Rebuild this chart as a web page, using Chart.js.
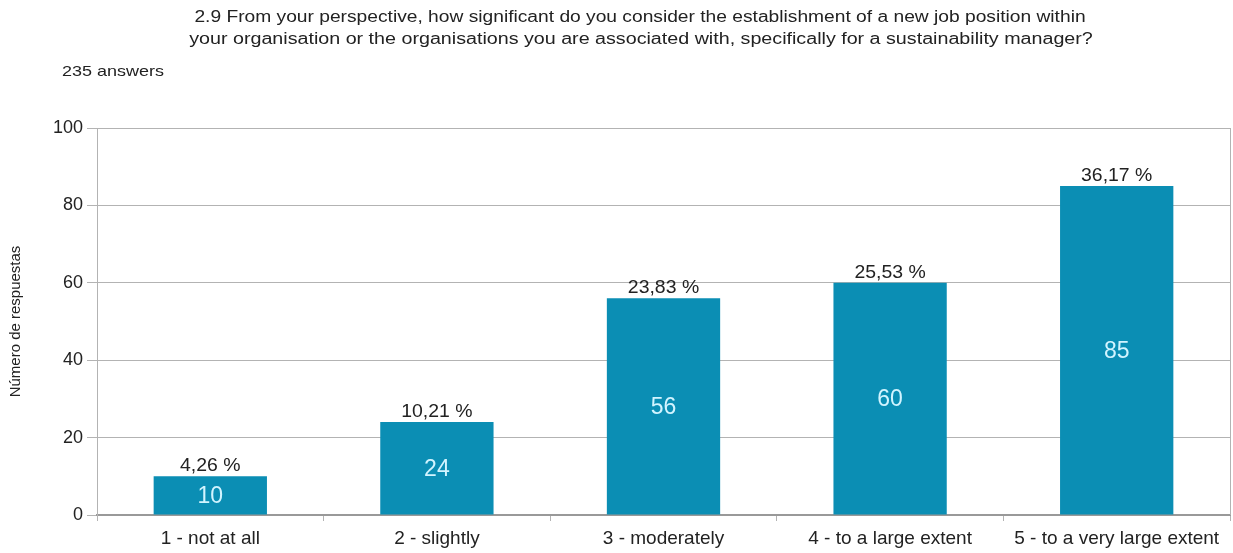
<!DOCTYPE html>
<html>
<head>
<meta charset="utf-8">
<script src="https://cdn.jsdelivr.net/npm/chart.js@4/dist/chart.umd.min.js"></script>
<style>
  html, body { margin: 0; padding: 0; background: #ffffff; }
  #wrap { width: 1233px; height: 553px; position: relative; }
</style>
</head>
<body>
<div id="wrap"><canvas id="chart" width="1233" height="553"></canvas></div>
<script>
// Survey question 2.9 – responses per answer option
const categories = [
  '1 - not at all',
  '2 - slightly',
  '3 - moderately',
  '4 - to a large extent',
  '5 - to a very large extent'
];
const counts = [10, 24, 56, 60, 85];
const percentLabels = ['4,26 %', '10,21 %', '23,83 %', '25,53 %', '36,17 %'];
const yTicks = [0, 20, 40, 60, 80, 100];

const titleLines = [
  '2.9 From your perspective, how significant do you consider the establishment of a new job position within',
  'your organisation or the organisations you are associated with, specifically for a sustainability manager?'
];
const answersNote = '235 answers';
const yAxisTitle = 'Número de respuestas';

const FONT = "'Liberation Sans', Arial, sans-serif";
const BAR_COLOR = '#0b8eb4';
const TEXT_COLOR = '#222222';

// draws text widened horizontally by factor sx, anchored at (x, y)
function wideText(ctx, text, x, y, sx) {
  ctx.save();
  ctx.translate(x, y);
  ctx.scale(sx, 1);
  ctx.fillText(text, 0, 0);
  ctx.restore();
}

// Title, answer count, frame edge and per-bar labels
const annotations = {
  id: 'annotations',
  afterDatasetsDraw(chart) {
    const { ctx, chartArea } = chart;
    ctx.save();
    ctx.fillStyle = TEXT_COLOR;
    ctx.textBaseline = 'middle';
    ctx.textAlign = 'center';
    ctx.font = '16px ' + FONT;
    wideText(ctx, titleLines[0], 640, 18, 1.2);
    wideText(ctx, titleLines[1], 641, 40, 1.23);
    ctx.textAlign = 'left';
    ctx.font = '15px ' + FONT;
    wideText(ctx, answersNote, 62, 72, 1.2);

    // right frame edge
    ctx.strokeStyle = '#b3b3b3';
    ctx.lineWidth = 1;
    ctx.beginPath();
    ctx.moveTo(Math.round(chartArea.right) + 0.5, chartArea.top);
    ctx.lineTo(Math.round(chartArea.right) + 0.5, chartArea.bottom);
    ctx.stroke();

    const meta = chart.getDatasetMeta(0);
    meta.data.forEach((bar, i) => {
      const top = bar.y;
      const bottom = bar.base;
      ctx.textAlign = 'center';
      ctx.fillStyle = TEXT_COLOR;
      ctx.font = '18px ' + FONT;
      wideText(ctx, percentLabels[i], bar.x, top - 10, 1.08);
      ctx.fillStyle = '#d2f4ff';
      ctx.font = '23px ' + FONT;
      ctx.fillText(String(counts[i]), bar.x, (top + bottom) / 2 + 1);
    });
    ctx.restore();
  }
};

new Chart(document.getElementById('chart'), {
  type: 'bar',
  data: {
    labels: categories,
    datasets: [{
      data: counts,
      backgroundColor: BAR_COLOR,
      borderWidth: 0,
      barPercentage: 0.5,
      categoryPercentage: 1.0
    }]
  },
  options: {
    responsive: false,
    animation: false,
    events: [],
    layout: { padding: { top: 128, right: 3, left: 0, bottom: 0 } },
    plugins: {
      legend: { display: false },
      tooltip: { enabled: false },
      title: { display: false }
    },
    scales: {
      x: {
        grid: {
          offset: true,
          drawOnChartArea: false,
          drawTicks: true,
          tickLength: 6,
          tickColor: '#b3b3b3'
        },
        border: { display: true, color: '#999999', width: 2 },
        ticks: {
          color: TEXT_COLOR,
          font: { family: FONT, size: 19 },
          padding: 6,
          maxRotation: 0,
          autoSkip: false
        },
        afterFit(scale) { scale.height = 38; }
      },
      y: {
        min: 0,
        max: 100,
        afterBuildTicks(scale) { scale.ticks = yTicks.map(v => ({ value: v })); },
        grid: {
          color: '#b3b3b3',
          lineWidth: 1,
          drawTicks: true,
          tickLength: 10,
          tickColor: '#b3b3b3'
        },
        border: { display: true, color: '#b3b3b3', width: 1 },
        ticks: {
          color: TEXT_COLOR,
          font: { family: FONT, size: 18 },
          padding: 4
        },
        title: {
          display: true,
          text: yAxisTitle,
          color: TEXT_COLOR,
          font: { family: FONT, size: 15 },
          padding: { top: 7, bottom: 0 }
        },
        afterFit(scale) { scale.width = 97; }
      }
    }
  },
  plugins: [annotations]
});
</script>
</body>
</html>
